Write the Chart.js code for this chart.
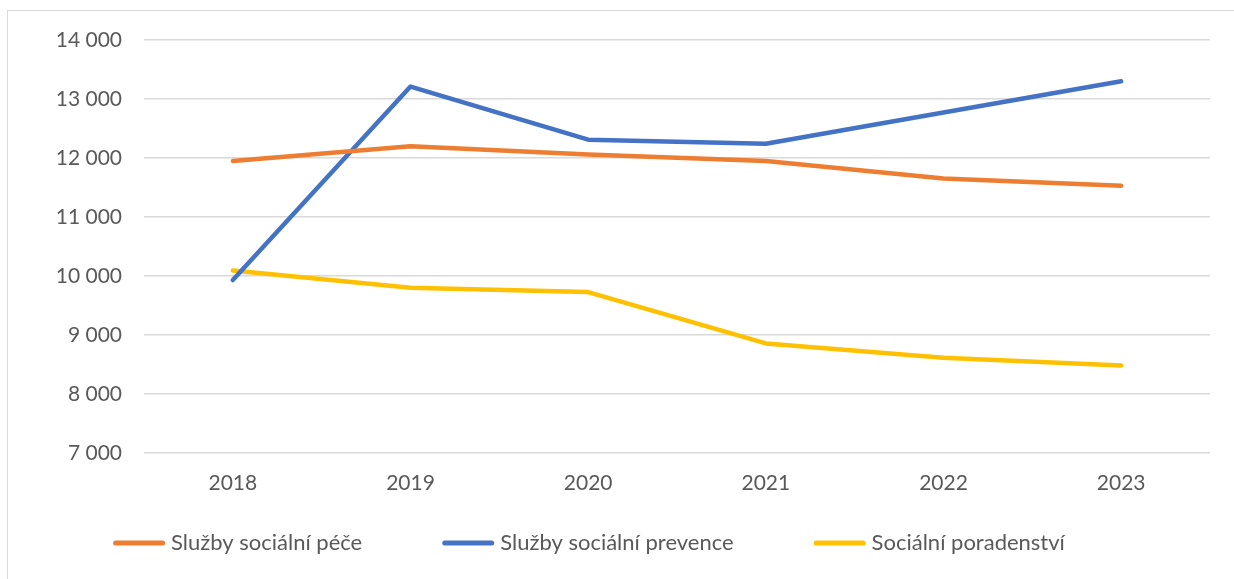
<!DOCTYPE html>
<html>
<head>
<meta charset="utf-8">
<script src="https://cdn.jsdelivr.net/npm/chart.js@4.4.1/dist/chart.umd.min.js"></script>
<style>
  html, body { margin: 0; padding: 0; background: #fff; }
  #wrap { position: relative; width: 1234px; height: 579px; overflow: hidden; }
  #frame { position: absolute; left: 7px; top: 10px; width: 1300px; height: 700px; border: 1px solid #D9D9D9; box-sizing: border-box; pointer-events: none; }
  canvas { position: absolute; left: 0; top: 0; }
</style>
</head>
<body>
<div id="wrap">
  <canvas id="c" width="1234" height="579"></canvas>
  <div id="frame"></div>
</div>
<script>
const categories = ['2018', '2019', '2020', '2021', '2022', '2023'];
const seriesNames = ['Služby sociální péče', 'Služby sociální prevence', 'Sociální poradenství'];
const pece = [11950, 12200, 12060, 11950, 11650, 11530];
const prevence = [9930, 13210, 12310, 12240, 12770, 13300];
const poradenstvi = [10090, 9800, 9725, 8855, 8610, 8480];
const yMin = 7000, yMax = 14000, yStep = 1000;
const colors = ['#ED7D31', '#4472C4', '#FFC000'];

const FONT = 'Lato, "Open Sans", sans-serif';
const TXT = '#595959';

function ds(label, data, color) {
  return {
    label, data,
    borderColor: color, backgroundColor: color,
    borderWidth: 4.5, borderCapStyle: 'round', borderJoinStyle: 'round',
    pointRadius: 0, pointHoverRadius: 0, tension: 0, fill: false
  };
}

// Legend drawn from the chart's own datasets (Excel-like spacing)
const bottomLegend = {
  id: 'bottomLegend',
  afterDraw(chart) {
    const ctx = chart.ctx;
    const sets = chart.data.datasets;
    const fontSize = 22, sample = 52, gapText = 6, gapItem = 80;
    ctx.save();
    ctx.font = fontSize + 'px ' + FONT;
    const widths = sets.map(d => sample + gapText + ctx.measureText(d.label).width);
    const total = widths.reduce((a, b) => a + b, 0) + gapItem * (sets.length - 1);
    const cy = 543;
    let x = 589 - total / 2;
    sets.forEach((d, i) => {
      ctx.strokeStyle = d.borderColor;
      ctx.lineWidth = 5;
      ctx.lineCap = 'round';
      ctx.beginPath();
      ctx.moveTo(x + 2.5, cy);
      ctx.lineTo(x + sample - 2.5, cy);
      ctx.stroke();
      ctx.fillStyle = TXT;
      ctx.textBaseline = 'middle';
      ctx.textAlign = 'left';
      ctx.fillText(d.label, x + sample + gapText, cy);
      x += widths[i] + gapItem;
    });
    ctx.restore();
  }
};

new Chart(document.getElementById('c'), {
  type: 'line',
  data: {
    labels: categories,
    datasets: [
      ds(seriesNames[0], pece, colors[0]),
      ds(seriesNames[1], prevence, colors[1]),
      ds(seriesNames[2], poradenstvi, colors[2])
    ]
  },
  plugins: [bottomLegend],
  options: {
    responsive: false,
    animation: false,
    devicePixelRatio: 1,
    layout: { padding: { left: 30, right: 24, top: 40, bottom: 65 } },
    plugins: {
      tooltip: { enabled: false },
      legend: { display: false }
    },
    scales: {
      x: {
        offset: true,
        grid: { display: false, drawTicks: false },
        border: { display: false },
        ticks: { color: TXT, font: { family: FONT, size: 21 }, padding: 18 }
      },
      y: {
        min: yMin, max: yMax,
        afterFit: (s) => { s.width = 114; },
        grid: { color: '#D9D9D9', lineWidth: 1.5, drawTicks: false },
        border: { display: false },
        ticks: {
          stepSize: yStep,
          color: TXT,
          padding: 22,
          font: { family: FONT, size: 21 },
          callback: (v) => String(v).replace(/\B(?=(\d{3})+(?!\d))/g, ' ')
        }
      }
    }
  }
});
</script>
</body>
</html>
